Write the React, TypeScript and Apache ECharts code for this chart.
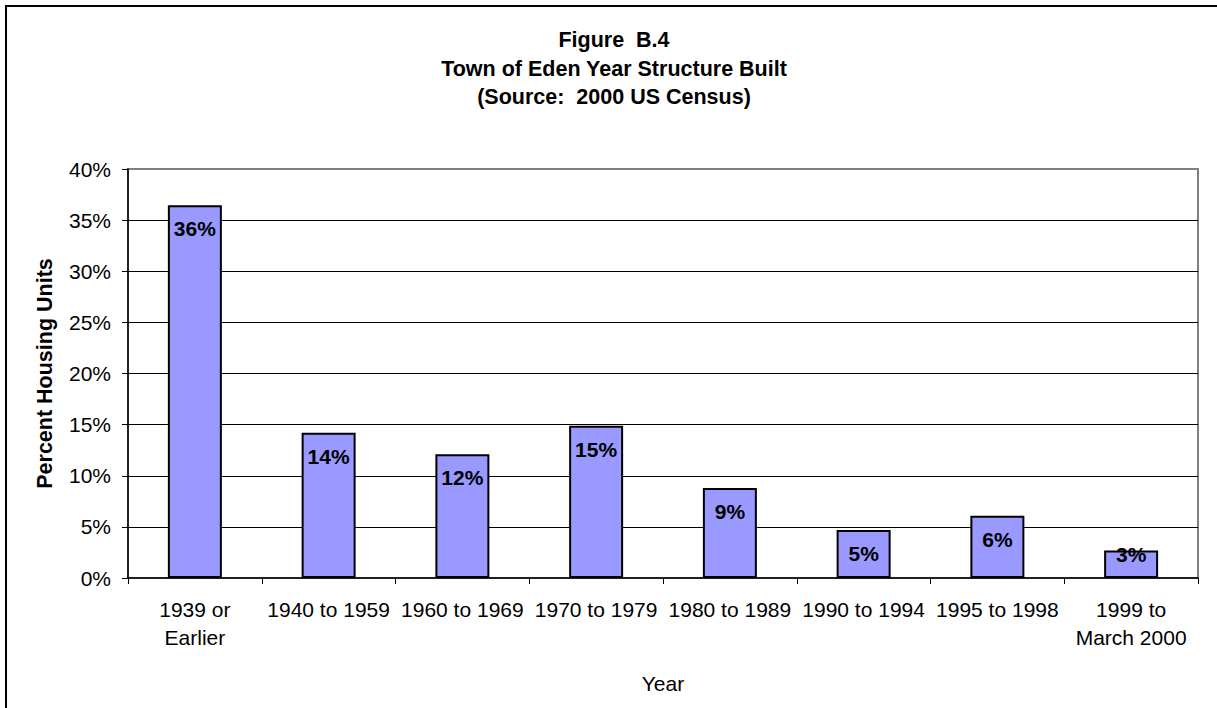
import React, { useEffect, useRef } from "react";
import * as echarts from "echarts";

const categories = [
  "1939 or\nEarlier",
  "1940 to 1959",
  "1960 to 1969",
  "1970 to 1979",
  "1980 to 1989",
  "1990 to 1994",
  "1995 to 1998",
  "1999 to\nMarch 2000",
];
const percentValues = [36.45, 14.2, 12.1, 14.9, 8.8, 4.7, 6.1, 2.7];
const yTicks = { min: 0, max: 40, interval: 5 };
const titleLines = ["Figure  B.4", "Town of Eden Year Structure Built", "(Source:  2000 US Census)"];

export default function App() {
  const ref = useRef<HTMLDivElement>(null);
  useEffect(() => {
    document.body.style.margin = "0";
    if (!ref.current) return;
    const chart = echarts.init(ref.current, null, { renderer: "svg" });
    const font = "Arial, 'Liberation Sans', sans-serif";
    chart.setOption({
      animation: false,
      backgroundColor: "#ffffff",
      title: {
        text: titleLines.join("\n"),
        left: 609,
        textAlign: "center",
        top: 21,
        textStyle: {
          fontFamily: font,
          fontWeight: "bold",
          fontSize: 21.5,
          lineHeight: 28.5,
          color: "#000",
        },
      },
      graphic: [
        {
          type: "rect",
          shape: { x: 6, y: 6, width: 1400, height: 900 },
          style: { fill: "none", stroke: "#000", lineWidth: 2 },
          z: 100,
        },
      ],
      grid: {
        left: 128,
        top: 169,
        right: 19,
        bottom: 130,
        show: true,
        borderColor: "#808080",
        borderWidth: 2,
        backgroundColor: "transparent",
      },
      xAxis: {
        type: "category",
        data: categories,
        boundaryGap: true,
        name: "Year",
        nameLocation: "middle",
        nameGap: 95,
        nameTextStyle: { fontFamily: font, fontSize: 21, color: "#000" },
        axisLine: { lineStyle: { color: "#000", width: 1.5 } },
        axisTick: { show: true, length: 6, lineStyle: { color: "#000", width: 1 } },
        axisLabel: {
          fontFamily: font,
          fontSize: 21,
          color: "#000",
          lineHeight: 28,
          margin: 17,
          interval: 0,
        },
      },
      yAxis: {
        type: "value",
        min: yTicks.min,
        max: yTicks.max,
        interval: yTicks.interval,
        name: "Percent Housing Units",
        nameLocation: "middle",
        nameGap: 72,
        nameRotate: 90,
        nameTextStyle: { fontFamily: font, fontSize: 21.5, fontWeight: "bold", color: "#000" },
        axisLine: { show: true, lineStyle: { color: "#000", width: 1.5 } },
        axisTick: { show: true, length: 6, lineStyle: { color: "#000", width: 1 } },
        axisLabel: {
          fontFamily: font,
          fontSize: 21,
          color: "#000",
          margin: 17,
          formatter: "{value}%",
        },
        splitLine: {
          show: true,
          showMinLine: false,
          showMaxLine: false,
          lineStyle: { color: "#000", width: 1 },
        },
      },
      series: [
        {
          type: "bar",
          barWidth: 54,
          data: percentValues.map((v) => ({
            value: v,
            label:
              v < 4
                ? { position: "insideBottom", distance: 13 }
                : { position: "insideTop", distance: 13 },
          })),
          itemStyle: { color: "#9999FF", borderColor: "#000", borderWidth: 2 },
          label: {
            show: true,
            fontFamily: font,
            fontSize: 21,
            fontWeight: "bold",
            color: "#000",
            formatter: (p: any) => Math.round(p.value) + "%",
          },
        },
      ],
    });
    return () => chart.dispose();
  }, []);
  return <div ref={ref} style={{ width: 1217, height: 708 }} />;
}
